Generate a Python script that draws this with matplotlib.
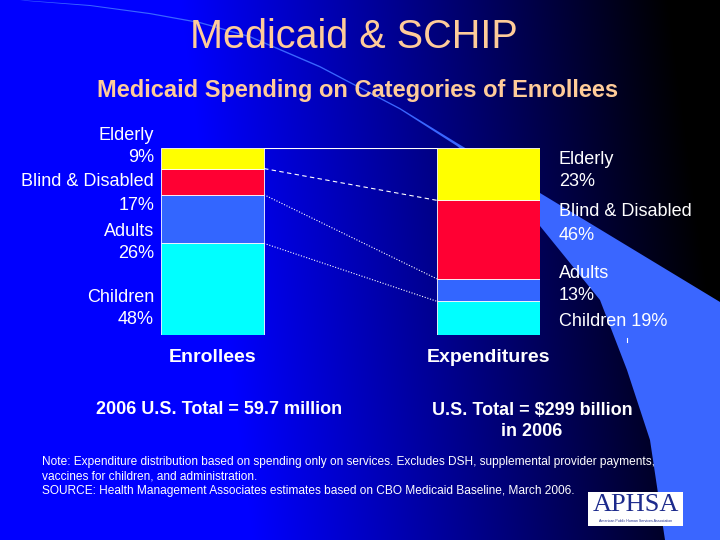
import numpy as np
import matplotlib
matplotlib.use("Agg")
import matplotlib.pyplot as plt
from matplotlib.patches import Polygon, Rectangle

plt.rcParams["font.family"] = ["Liberation Sans", "DejaVu Sans"]

# ── data ──────────────────────────────────────────────────────────────────────
groups      = ["Enrollees", "Expenditures"]
categories  = ["Children", "Adults", "Blind & Disabled", "Elderly"]
enrollees   = [49, 26, 14, 11]      # bar heights (%)
expenditure = [18, 12, 42, 28]
colors      = ["#00FFFF", "#3366FF", "#FF0033", "#FFFF00"]

left_labels  = ["Elderly", "9%", "Blind & Disabled", "17%",
                "Adults", "26%", "Children", "48%"]
right_labels = ["Elderly", "23%", "Blind & Disabled", "46%",
                "Adults", "13%", "Children 19%"]
totals = ["2006 U.S. Total = 59.7 million", "U.S. Total = $299 billion\nin 2006"]

note_lines = [
    "Note: Expenditure distribution based on spending only on services. "
    "Excludes DSH, supplemental provider payments,",
    "vaccines for children, and administration.",
    "SOURCE: Health Management Associates estimates based on CBO Medicaid "
    "Baseline, March 2006.",
]

W, H = 720, 540
fig = plt.figure(figsize=(7.2, 5.4), dpi=100)

# ── background: blue → black gradient plus light swoosh ──────────────────────
bg = fig.add_axes([0, 0, 1, 1])
bg.set_xlim(0, W)
bg.set_ylim(H, 0)
bg.axis("off")

X, Y = np.meshgrid(np.linspace(0, 1, W), np.linspace(0, 1, H))
d = (X - 0.28) / 0.68 - 0.15 * (Y - 0.3)
b = np.clip(1 - d, 0, 1)
img = np.zeros((H, W, 3))
img[..., 2] = b
bg.imshow(img, extent=(0, W, H, 0), aspect="auto", zorder=0)

upper = [(20, 0), (90, 5), (150, 13), (200, 22), (250, 36), (320, 66),
         (400, 108), (457, 143), (540, 193), (720, 302)]
lower = [(665, 540), (650, 440), (627, 370), (600, 300), (540, 226),
         (495, 178), (457, 146), (400, 109.5), (320, 67.5), (250, 37.5),
         (200, 23.3), (150, 14.2), (90, 6), (25, 0.8)]
band = Polygon(upper + [(720, 540)] + lower, closed=True,
               facecolor="#3a66ff", edgecolor="none", zorder=1)
bg.add_patch(band)

# ── stacked bars ──────────────────────────────────────────────────────────────
bw = 103 / 276
ax = fig.add_axes([161 / W, (H - 335) / H, (540 - 161) / W, 187 / H])
ax.set_xlim(-bw / 2, 1 + bw / 2)
ax.set_ylim(0, 100)
ax.axis("off")
ax.patch.set_alpha(0)

cum_e = np.cumsum(enrollees)
cum_x = np.cumsum(expenditure)
for i, (ve, vx) in enumerate(zip(enrollees, expenditure)):
    ax.bar([0, 1], [ve, vx], bottom=[cum_e[i] - ve, cum_x[i] - vx], width=bw,
           color=colors[i], edgecolor="white", linewidth=0.6, zorder=3)

styles = [(0, (1, 1.5)), (0, (1, 1.5)), (0, (4, 3)), "solid"]
for k in range(len(categories)):
    ax.plot([bw / 2, 1 - bw / 2], [cum_e[k], min(cum_x[k], 100)],
            color="white", lw=0.8, ls=styles[k], zorder=2)

for i, g in enumerate(groups):
    bg.text(212.5 + 276 * i, 358, g, color="white", fontsize=14,
            fontweight="bold", ha="center", va="center", zorder=5)

# ── category labels ───────────────────────────────────────────────────────────
left_y = [136, 158, 182, 206, 231, 254, 297, 319]
for txt, y in zip(left_labels, left_y):
    bg.text(154, y, txt, color="white", fontsize=13, ha="right",
            va="center", zorder=5)
right_y = [160, 181, 212, 235, 273, 295, 321]
for txt, y in zip(right_labels, right_y):
    bg.text(559, y, txt, color="white", fontsize=13, ha="left",
            va="center", zorder=5)
bg.plot([627, 627], [338, 342], color="white", lw=0.8, zorder=5)

# ── titles / totals / note ───────────────────────────────────────────────────
bg.text(354, 37, "Medicaid & SCHIP", color="#FFCC99", fontsize=28.5,
        ha="center", va="center", zorder=5)
bg.text(358, 91, "Medicaid Spending on Categories of Enrollees",
        color="#FFCC99", fontsize=17, fontweight="bold",
        ha="center", va="center", zorder=5)
bg.text(219, 410, totals[0], color="white", fontsize=13, fontweight="bold",
        ha="center", va="center", zorder=5)
bg.text(532, 421, totals[1], color="white", fontsize=13, fontweight="bold",
        ha="center", va="center", linespacing=1.25, zorder=5)
for j, line in enumerate(note_lines):
    bg.text(42, 462 + 14.5 * j, line, color="white", fontsize=8.6,
            ha="left", va="center", zorder=5)

# ── APHSA logo ────────────────────────────────────────────────────────────────
bg.add_patch(Rectangle((588, 492), 95, 34, facecolor="white",
                       edgecolor="none", zorder=6))
bg.text(635.5, 505, "APHSA", color="#1c2a8c", fontsize=19,
        family="Liberation Serif", ha="center", va="center", zorder=7)
bg.text(635.5, 521.5, "American Public Human Services Association",
        color="#1c2a8c", fontsize=2.6, ha="center", va="center", zorder=7)

fig.savefig("out.png", dpi=100)
